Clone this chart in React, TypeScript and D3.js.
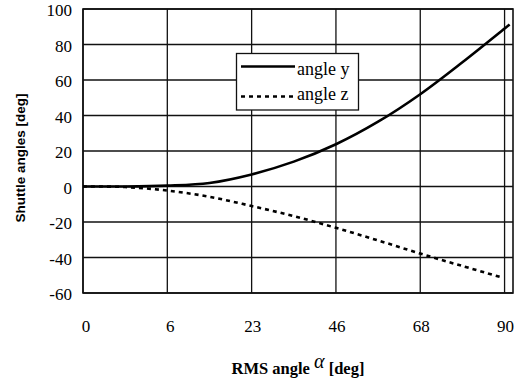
import React from "react";
import * as d3 from "d3";

// Sample positions along the manoeuvre (one unit per labelled RMS angle)
const stepY = [0, 0.5, 1, 1.5, 2, 2.5, 3, 3.5, 4, 4.5, 5, 5.06];
const angleY = [0, 0, 0.5, 2, 6.8, 14, 23.8, 36.5, 52, 70, 89, 91.3];

const stepZ = [0, 0.5, 1, 1.5, 2, 2.5, 3, 3.5, 4, 4.5, 4.98];
const angleZ = [0, -0.3, -2.3, -5.8, -11, -16.7, -23.3, -30.4, -37.8, -44.8, -51.4];

const xTickLabels = ["0", "6", "23", "46", "68", "90"];
const yTicks = [-60, -40, -20, 0, 20, 40, 60, 80, 100];

const W = 524;
const H = 382;
const left = 83;
const right = 513;
const top = 9;
const bottom = 293;

export default function App() {
  const x = d3.scaleLinear().domain([0, 5.1]).range([left, right]);
  const y = d3.scaleLinear().domain([-60, 100]).range([bottom, top]);

  const line = d3
    .line<[number, number]>()
    .x((d) => x(d[0]))
    .y((d) => y(d[1]))
    .curve(d3.curveCatmullRom.alpha(0.5));

  const ptsY: [number, number][] = stepY.map((s, i) => [s, angleY[i]]);
  const ptsZ: [number, number][] = stepZ.map((s, i) => [s, angleZ[i]]);

  const serif = "'Liberation Serif', 'Times New Roman', serif";
  const sans = "'Liberation Sans', Arial, sans-serif";

  return (
    <svg
      width={W}
      height={H}
      style={{ position: "absolute", left: 0, top: 0, background: "#fff" }}
    >
      {/* horizontal grid */}
      {yTicks.map((t) => (
        <line
          key={"h" + t}
          x1={left}
          x2={right}
          y1={y(t)}
          y2={y(t)}
          stroke="#111"
          strokeWidth={1.3}
        />
      ))}
      {/* vertical grid */}
      {xTickLabels.map((_, i) => (
        <line
          key={"v" + i}
          x1={x(i)}
          x2={x(i)}
          y1={top}
          y2={bottom}
          stroke="#111"
          strokeWidth={1.3}
        />
      ))}
      <rect
        x={left}
        y={top}
        width={right - left}
        height={bottom - top}
        fill="none"
        stroke="#111"
        strokeWidth={1.6}
      />

      {/* series */}
      <path d={line(ptsY) || ""} fill="none" stroke="#000" strokeWidth={2.6} />
      <path
        d={line(ptsZ) || ""}
        fill="none"
        stroke="#000"
        strokeWidth={2.6}
        strokeDasharray="4 4"
      />

      {/* y tick labels */}
      {yTicks.map((t) => (
        <text
          key={"yl" + t}
          x={72}
          y={y(t) + 3.5}
          textAnchor="end"
          dominantBaseline="middle"
          fontFamily={serif}
          fontSize={17}
          fill="#000"
        >
          {t}
        </text>
      ))}

      {/* x tick labels */}
      {xTickLabels.map((lab, i) => (
        <text
          key={"xl" + i}
          x={x(i) + (i < 2 ? 3 : 1)}
          y={331.5}
          textAnchor="middle"
          fontFamily={serif}
          fontSize={17}
          fill="#000"
        >
          {lab}
        </text>
      ))}

      {/* axis titles */}
      <text
        transform={`translate(25, 158) rotate(-90)`}
        textAnchor="middle"
        fontFamily={sans}
        fontWeight="bold"
        fontSize={13.5}
        fill="#000"
      >
        Shuttle angles [deg]
      </text>
      <text
        x={298}
        y={374}
        textAnchor="middle"
        fontFamily={serif}
        fontWeight="bold"
        fontSize={16.5}
        fill="#000"
      >
        RMS angle{" "}
        <tspan fontStyle="italic" fontWeight="normal" fontSize={20} dy={-6}>
          α
        </tspan>
        <tspan dy={6}> [deg]</tspan>
      </text>

      {/* legend */}
      <rect
        x={236.5}
        y={53.5}
        width={122}
        height={56.5}
        fill="#fff"
        stroke="#111"
        strokeWidth={1.3}
      />
      <line x1={241} x2={295} y1={66.5} y2={66.5} stroke="#000" strokeWidth={2.6} />
      <line
        x1={241}
        x2={295}
        y1={96.5}
        y2={96.5}
        stroke="#000"
        strokeWidth={2.6}
        strokeDasharray="4 4"
      />
      <text x={297} y={75} fontFamily={serif} fontSize={18} fill="#000">
        angle y
      </text>
      <text x={297} y={99.5} fontFamily={serif} fontSize={18} fill="#000">
        angle z
      </text>
    </svg>
  );
}
